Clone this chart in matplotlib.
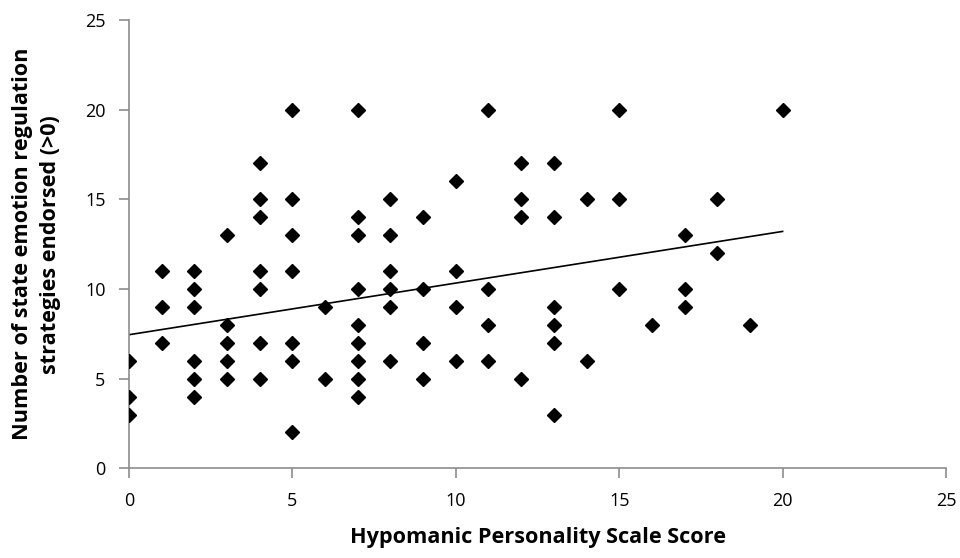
import matplotlib
matplotlib.use('Agg')
import matplotlib.pyplot as plt
import numpy as np

# HPS score -> list of endorsed strategy counts
scores = {
    0: [6, 4, 3],
    1: [11, 9, 7],
    2: [11, 10, 9, 6, 5, 4],
    3: [13, 8, 7, 6, 5],
    4: [17, 15, 14, 11, 10, 7, 5],
    5: [20, 15, 13, 11, 7, 6, 2],
    6: [9, 5],
    7: [20, 14, 13, 10, 8, 7, 6, 5, 4],
    8: [15, 13, 11, 10, 9, 6],
    9: [14, 10, 7, 5],
    10: [16, 11, 9, 6],
    11: [20, 10, 8, 6],
    12: [17, 15, 14, 5],
    13: [17, 14, 9, 8, 7, 3],
    14: [15, 6],
    15: [20, 15, 10],
    16: [8],
    17: [13, 10, 9],
    18: [15, 12],
    19: [8],
    20: [20],
}
hps = np.array([k for k, v in scores.items() for _ in v], dtype=float)
strategies = np.array([y for v in scores.values() for y in v], dtype=float)

# linear trend as drawn on the chart (some points overlap, so a refit differs a bit)
trend_intercept = 7.45
trend_slope = 0.288

plt.rcParams['font.family'] = ['Open Sans', 'DejaVu Sans']

fig = plt.figure(figsize=(9.6, 5.58), dpi=100)
ax = fig.add_axes([0.1344, 0.1607, 0.851, 0.8035])

ax.plot(hps, strategies, linestyle='none', marker='D', markersize=7,
        color='black', zorder=3)
xl = np.array([hps.min(), hps.max()])
ax.plot(xl, trend_intercept + trend_slope * xl, color='black', linewidth=1.2, zorder=2)

ax.set_xlim(0, 25)
ax.set_ylim(0, 25)
ax.set_xticks(range(0, 26, 5))
ax.set_yticks(range(0, 26, 5))
for side in ('top', 'right'):
    ax.spines[side].set_visible(False)
for side in ('left', 'bottom'):
    ax.spines[side].set_color('#8c8c8c')
    ax.spines[side].set_linewidth(1.2)
ax.tick_params(direction='out', length=7, width=1.2, color='#8c8c8c',
               labelsize=13, pad=10)

ax.set_xlabel('Hypomanic Personality Scale Score', fontsize=15.6,
              fontweight='bold', labelpad=12)
ax.set_ylabel('Number of state emotion regulation\nstrategies endorsed (>0)',
              fontsize=15.6, fontweight='bold', linespacing=1.45)
ax.yaxis.set_label_coords(-0.083, 0.5)

fig.savefig('out.png', dpi=100)
